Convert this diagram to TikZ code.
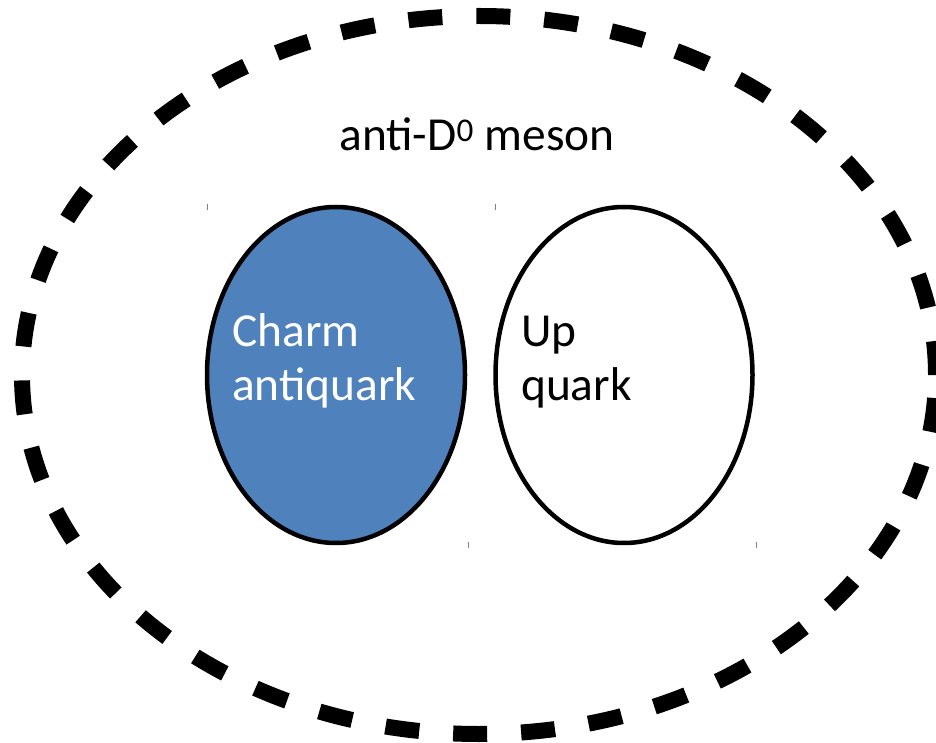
\documentclass[tikz,border=0pt]{standalone}
\usepackage{fontspec}
\setmainfont{Carlito}
\usetikzlibrary{shapes.geometric}
\definecolor{qblue}{HTML}{4F81BD}
\tikzset{
  meson/.style={ellipse, draw=black, line width=16pt, dash pattern=on 34pt off 34pt, inner sep=0pt},
  quark/.style={ellipse, draw=black, line width=4.5pt, inner sep=0pt},
  lbl/.style={inner sep=0pt, font=\fontsize{47.4}{55}\selectfont},
  tick/.style={draw=gray, line width=1pt}
}
\begin{document}
\begin{tikzpicture}[x=1pt,y=1pt]
\useasboundingbox (0,0) rectangle (936,742);
\node[meson, minimum width=914pt, minimum height=718pt] (outer) at (479,367) {};
\node[quark, fill=qblue, minimum width=258pt, minimum height=336pt] (charm) at (336,367) {};
\node[quark, fill=white, minimum width=257pt, minimum height=336pt] (up) at (624,367) {};
\node[lbl, anchor=base] (title) at (477,591) {anti-D\textsuperscript{0} meson};
\node[lbl, anchor=base west, text=white] (c1) at (232,395) {Charm};
\node[lbl, anchor=base west, text=white] (c2) at (232,341) {antiquark};
\node[lbl, anchor=base west] (u1) at (521,395) {Up};
\node[lbl, anchor=base west] (u2) at (521,341) {quark};
\draw[tick] (207,532) -- (207,538);
\draw[tick] (495,532) -- (495,538);
\draw[tick] (468,194) -- (468,200);
\draw[tick] (756,194) -- (756,200);
\end{tikzpicture}
\end{document}
